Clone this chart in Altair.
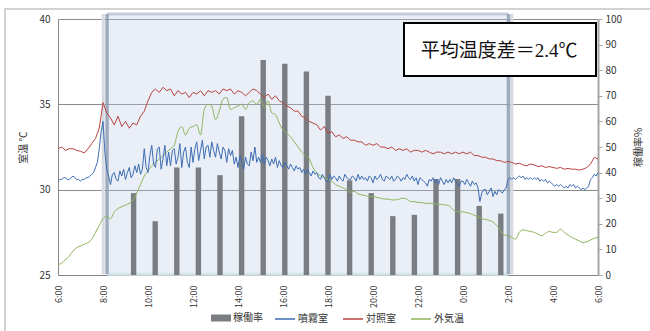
import altair as alt
import pandas as pd

# Sampling grids, in hours elapsed since 6:00 (0 .. 24)
hours_5min = [i / 12 for i in range(289)]
hours_10min = [i / 6 for i in range(145)]

# 噴霧室 (misted room) temperature, degC — 5-minute log, one row per clock hour from 6:00
mist_room = [
    30.5, 30.6, 30.6, 30.7, 30.7, 30.6, 30.6, 30.7, 30.8, 30.7, 30.6, 30.6,
    30.5, 30.6, 30.6, 30.7, 30.7, 30.8, 30.9, 31.0, 31.3, 31.6, 32.4, 33.4,
    34.0, 32.2, 31.2, 30.8, 30.3, 30.9, 31.0, 30.6, 30.5, 31.1, 30.8, 31.2,
    30.6, 31.0, 31.3, 30.7, 30.9, 31.4, 31.0, 31.5, 30.9, 31.2, 32.4, 31.3,
    31.0, 32.0, 32.6, 31.5, 31.3, 32.4, 32.5, 31.2, 31.8, 32.6, 31.4, 32.2,
    31.4, 32.3, 32.4, 31.5, 31.9, 32.7, 31.3, 32.2, 32.5, 31.6, 31.3, 32.5,
    31.6, 32.4, 32.8, 31.7, 32.3, 32.9, 31.8, 32.5, 32.6, 31.9, 32.8, 32.3,
    31.9, 32.7, 32.2, 31.8, 32.5, 32.3, 31.6, 32.4, 32.0, 32.3, 31.5, 31.9,
    31.3, 32.0, 31.6, 31.2, 31.9, 31.5, 31.4, 32.2, 31.7, 32.5, 31.6, 31.9,
    31.6, 32.1, 31.5, 31.9, 31.7, 31.4, 31.8, 31.5, 31.9, 31.3, 31.7, 31.4,
    31.3, 31.6, 31.4, 31.2, 31.5, 31.3, 31.1, 31.4, 31.2, 31.3, 31.0, 31.2,
    30.9, 31.2, 31.0, 30.8, 31.1, 30.9, 31.0, 30.7, 30.6, 30.9, 30.7, 30.5,
    30.5, 30.9, 30.6, 30.8, 30.7, 30.5, 30.8, 30.6, 30.5, 30.9, 30.7, 30.6,
    30.6, 30.8, 30.7, 30.5, 30.9, 30.6, 30.8, 30.6, 30.7, 30.5, 30.8, 30.7,
    30.4, 30.8, 30.6, 30.7, 30.9, 30.6, 30.5, 30.8, 30.7, 30.6, 30.8, 30.5,
    30.6, 30.8, 30.7, 30.5, 30.7, 30.6, 30.9, 30.7, 30.6, 30.8, 30.5, 30.7,
    30.3, 30.7, 30.6, 30.5, 30.4, 30.2, 30.6, 30.5, 30.7, 30.4, 30.6, 30.3,
    30.7, 30.5, 30.3, 30.6, 30.4, 30.6, 30.4, 30.7, 30.5, 30.3, 30.2, 30.5,
    30.5, 30.3, 30.6, 30.4, 30.2, 30.5, 30.3, 30.4, 30.1, 29.3, 29.8, 30.0,
    30.0, 29.7, 29.9, 30.1, 29.6, 29.9, 29.7, 30.0, 29.9, 29.8, 30.0, 30.1,
    30.6, 30.7, 30.6, 30.7, 30.6, 30.7, 30.8, 30.7, 30.8, 30.6, 30.7, 30.6,
    30.7, 30.6, 30.7, 30.6, 30.7, 30.5, 30.6, 30.5, 30.6, 30.4, 30.5, 30.4,
    30.3, 30.2, 30.3, 30.2, 30.3, 30.2, 30.1, 30.2, 30.1, 30.3, 30.2, 30.3,
    30.1, 30.2, 30.1, 30.0, 30.1, 30.0, 30.1, 30.2, 30.6, 30.7, 30.9, 30.8,
    31.0,
]

# 対照室 (control room) temperature, degC — 10-minute log
control_room = [
    32.4, 32.5, 32.3, 32.4, 32.4, 32.3,
    32.25, 32.15, 32.4, 32.7, 33.0, 33.6,
    35.1, 34.5, 34.2, 33.8, 34.3, 33.7,
    34.0, 33.6, 33.9, 33.8, 34.3, 34.6,
    35.2, 35.7, 35.9, 35.7, 36.0, 35.8,
    35.9, 35.5, 35.8, 35.6, 35.7, 35.4,
    35.7, 35.6, 35.8, 35.5, 35.8, 35.7,
    35.8, 35.6, 35.9, 35.8, 35.9, 35.6,
    35.8, 35.7, 35.5, 35.7, 35.9, 35.8,
    35.6, 35.4, 35.6, 35.3, 35.5, 35.2,
    35.1, 34.9, 34.8, 34.6, 34.6, 34.3,
    34.2, 34.0, 33.9, 33.8, 33.5, 33.7,
    33.3, 33.4, 33.1, 33.2, 33.0, 33.1,
    32.9, 32.9, 32.8, 32.8, 32.6, 32.7,
    32.6, 32.7, 32.5, 32.5, 32.4, 32.5,
    32.3, 32.4, 32.3, 32.4, 32.2, 32.3,
    32.3, 32.2, 32.3, 32.2, 32.1, 32.2,
    32.2, 32.1, 32.2, 32.1, 32.2, 32.1,
    32.2, 32.1, 32.2, 32.0, 32.0, 31.9,
    31.9, 31.8, 31.8, 31.7, 31.7, 31.6,
    31.65, 31.6, 31.5, 31.55, 31.45, 31.4,
    31.5, 31.45, 31.35, 31.4, 31.3, 31.35,
    31.3, 31.25, 31.3, 31.2, 31.25, 31.2,
    31.2, 31.15, 31.2, 31.3, 31.5, 31.9,
    31.8,
]

# 外気温 (outdoor air) temperature, degC — 10-minute log
outdoor = [
    25.6, 25.7, 25.9, 26.1, 26.4, 26.6,
    26.7, 26.8, 26.9, 27.1, 27.5, 27.9,
    28.3, 28.45, 28.3, 28.7, 28.9, 29.0,
    29.1, 29.2, 29.4, 29.8, 30.3, 30.8,
    31.1, 31.4, 31.6, 31.8, 32.0, 32.2,
    32.4, 32.6, 33.4, 33.7, 33.2, 33.6,
    33.7, 33.8, 33.2, 34.7, 35.0, 34.9,
    34.1, 34.6, 35.3, 35.4, 34.7, 34.8,
    34.9, 35.0, 34.7, 35.1, 35.2, 35.0,
    35.3, 34.8, 35.2, 34.5, 34.4, 33.9,
    33.5, 33.3, 33.1, 32.8, 32.5, 32.2,
    32.0, 31.8, 31.3, 31.0, 30.8, 30.7,
    30.6, 30.5, 30.3, 30.2, 30.1, 30.0,
    29.85, 29.9, 29.75, 29.7, 29.65, 29.6,
    29.6, 29.55, 29.5, 29.45, 29.45, 29.4,
    29.4, 29.45, 29.5, 29.45, 29.3, 29.3,
    29.25, 29.25, 29.2, 29.2, 29.2, 29.15,
    29.15, 29.1, 29.1, 28.9, 28.75, 28.7,
    28.7, 28.65, 28.6, 28.5, 28.4, 28.3,
    28.25, 28.2, 28.1, 27.9, 27.6, 27.35,
    27.3, 27.2, 27.1, 27.5, 27.65, 27.6,
    27.55, 27.5, 27.4, 27.3, 27.45, 27.55,
    27.5, 27.5, 27.7, 27.5, 27.35, 27.2,
    27.1, 27.0, 26.9, 26.95, 27.05, 27.15,
    27.2,
]

series_names = ["噴霧室", "対照室", "外気温"]
series_colors = ["#3d6db3", "#b8443f", "#8db55a"]

# 稼働率 (operating rate, %) per hourly category slot (25 slots, 6:00 .. 6:00)
rate_slots = list(range(3, 21))
rate_values = [32, 21, 42, 42, 39, 62, 84, 82.5, 79.5, 70,
               37, 32, 23, 23.5, 37.5, 37.5, 27, 24]

# Operating period shaded on the chart (hours since 6:00)
op_start = 2.18
op_end = 20.02

FONT = "Noto Sans CJK JP"
TEXT = "#333333"

temps = pd.concat([
    pd.DataFrame({"hour": hours_5min, "temp": mist_room, "series": series_names[0]}),
    pd.DataFrame({"hour": hours_10min, "temp": control_room, "series": series_names[1]}),
    pd.DataFrame({"hour": hours_10min, "temp": outdoor, "series": series_names[2]}),
], ignore_index=True)
rates = pd.DataFrame({"slot": rate_slots, "rate": rate_values, "name": "稼働率"})

x_scale = alt.Scale(domain=[0, 24], nice=False, zero=False)
y_scale = alt.Scale(domain=[25, 40], nice=False, zero=False)

# Shaded operating period with its framed edges
region_df = pd.DataFrame({"start": [op_start], "end": [op_end], "low": [25.05], "high": [40.3]})
region_base = alt.Chart(region_df)
region_fill = region_base.mark_rect(fill="#b9cbe4", opacity=0.3).encode(
    x=alt.X("start:Q", scale=x_scale, axis=None),
    x2="end:Q",
    y=alt.Y("low:Q", scale=y_scale, axis=None),
    y2="high:Q",
)
region_top = region_base.mark_rule(color="#c3cddb", strokeWidth=3).encode(
    x=alt.X("start:Q", scale=x_scale, axis=None), x2="end:Q",
    y=alt.Y("high:Q", scale=y_scale, axis=None),
)
region_bottom = region_base.mark_rule(color="#d3e4ea", strokeWidth=3).encode(
    x=alt.X("start:Q", scale=x_scale, axis=None), x2="end:Q",
    y=alt.Y("low:Q", scale=y_scale, axis=None),
)
edges_df = pd.DataFrame({"edge": [op_start, op_end], "low": 25.05, "high": 40.3})
region_edges = alt.Chart(edges_df).mark_rule(color="#8f9db3", strokeWidth=3.5, opacity=0.85).encode(
    x=alt.X("edge:Q", scale=x_scale, axis=None),
    y=alt.Y("low:Q", scale=y_scale, axis=None),
    y2="high:Q",
)
shadow_df = pd.DataFrame({"edge": [op_start - 0.17, op_end + 0.15], "low": 25.05, "high": 40.3})
region_shadow = alt.Chart(shadow_df).mark_rule(color="#d6dbe2", strokeWidth=3).encode(
    x=alt.X("edge:Q", scale=x_scale, axis=None),
    y=alt.Y("low:Q", scale=y_scale, axis=None),
    y2="high:Q",
)

# Operating-rate bars on their own hourly category axis (right-hand scale)
bars = alt.Chart(rates).mark_bar().encode(
    x=alt.X(
        "slot:O",
        scale=alt.Scale(domain=list(range(25)), paddingInner=0.75, paddingOuter=0.375),
        axis=None,
    ),
    y=alt.Y(
        "rate:Q",
        scale=alt.Scale(domain=[0, 100], nice=False),
        axis=alt.Axis(
            orient="right", values=list(range(0, 101, 10)), grid=False,
            ticks=True, tickSize=4, tickColor="#a6a6a6",
            domainColor="#a6a6a6", domainWidth=2,
            labelFont=FONT, labelFontSize=10, labelColor=TEXT, labelPadding=3,
            title="稼働率%", titleAngle=270, titleFont=FONT, titleFontSize=10,
            titleFontWeight="normal", titleColor=TEXT, titlePadding=22,
        ),
    ),
    fill=alt.Fill(
        "name:N",
        scale=alt.Scale(domain=["稼働率"], range=["#7a7d82"]),
        legend=alt.Legend(
            title=None, orient="none", legendX=153, legendY=289, padding=0,
            symbolType="M-1,-0.35L1,-0.35L1,0.35L-1,0.35Z", symbolSize=400,
            symbolFillColor="#808080", symbolStrokeWidth=0,
            labelFont=FONT, labelFontSize=10, labelColor=TEXT, labelOffset=2,
        ),
    ),
)

stroke_enc = alt.Stroke(
    "series:N",
    scale=alt.Scale(domain=series_names, range=series_colors),
    legend=alt.Legend(
        title=None, orient="none", legendX=216, legendY=289, padding=0,
        direction="horizontal", symbolType="stroke", symbolSize=400,
        symbolStrokeWidth=1.5, columnPadding=12, labelOffset=2,
        labelFont=FONT, labelFontSize=10, labelColor=TEXT,
    ),
)

# Room temperatures (jagged logger traces) carry the shared axes
rooms = alt.Chart(temps).transform_filter(
    alt.FieldOneOfPredicate(field="series", oneOf=series_names[:2])
).mark_line(strokeWidth=1.0).encode(
    x=alt.X(
        "hour:Q", scale=x_scale,
        axis=alt.Axis(
            values=list(range(0, 25, 2)),
            labelExpr="((datum.value + 6) % 24) + ':00'",
            labelAngle=270, labelAlign="right", labelBaseline="middle",
            labelPadding=10, ticks=False, grid=False,
            domainColor="#868686", labelFont=FONT, labelFontSize=9,
            labelColor=TEXT, title=None,
        ),
    ),
    y=alt.Y(
        "temp:Q", scale=y_scale,
        axis=alt.Axis(
            values=[25, 30, 35, 40], grid=True, gridColor="#8a8a8a",
            ticks=False, domainColor="#868686",
            labelFont=FONT, labelFontSize=10, labelColor=TEXT, labelPadding=8,
            title="室温 ℃", titleFont=FONT, titleFontSize=10,
            titleFontWeight="normal", titleColor=TEXT, titlePadding=10,
        ),
    ),
    stroke=stroke_enc,
)

# Outdoor temperature, a smooth curve
outside = alt.Chart(temps).transform_filter(
    alt.FieldEqualPredicate(field="series", equal=series_names[2])
).mark_line(strokeWidth=1.0, interpolate="monotone").encode(
    x=alt.X("hour:Q", scale=x_scale, axis=None),
    y=alt.Y("temp:Q", scale=y_scale, axis=None),
    stroke=stroke_enc,
)

# Annotation box with the mean temperature difference
note = pd.DataFrame({"text": ["平均温度差＝2.4℃"]})
note_box = alt.Chart(note).mark_rect(fill="white", stroke="black", strokeWidth=2).encode(
    x=alt.value(346), x2=alt.value(538), y=alt.value(4), y2=alt.value(57)
)
note_text = alt.Chart(note).mark_text(
    font="Liberation Serif, Noto Sans CJK JP", fontSize=19, color="#111111",
    align="center", baseline="middle",
).encode(text="text:N", x=alt.value(441), y=alt.value(32))

# Outer chart frame
frame = alt.Chart(note).mark_rect(fillOpacity=0, stroke="#c4c4c4", strokeWidth=1.5).encode(
    x=alt.value(-53), x2=alt.value(640), y=alt.value(-10), y2=alt.value(360)
)

chart = alt.layer(
    frame, region_fill, region_shadow, region_top, region_bottom, region_edges,
    bars, outside, rooms, note_box, note_text,
).resolve_scale(
    x="independent", y="independent"
).properties(
    width=540, height=256,
    autosize=alt.AutoSizeParams(type="none"),
    padding={"left": 58, "top": 19, "right": 52, "bottom": 56},
).configure_view(strokeWidth=0)

chart.save("out.html", embed_options={"renderer": "svg", "actions": False})
